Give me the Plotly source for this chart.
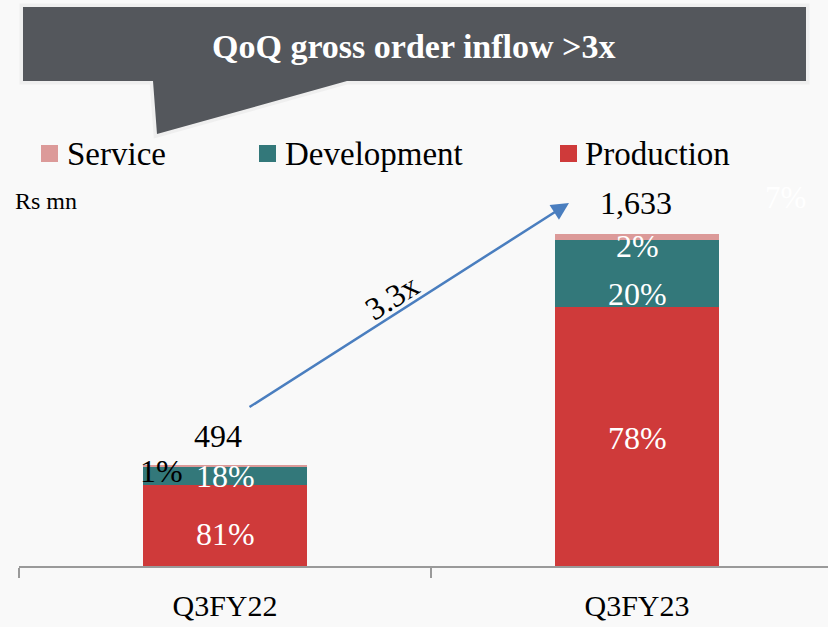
import plotly.graph_objects as go

# ---- data -------------------------------------------------------------
quarters = ["Q3FY22", "Q3FY23"]
totals = [494, 1633]                      # Rs mn
segments = ["Production", "Development", "Service"]
shares = {                                # % of the quarter's order inflow
    "Production": [81, 78],
    "Development": [18, 20],
    "Service": [1, 2],
}
colors = {"Production": "#cf3a3a", "Development": "#33787a", "Service": "#dc9a99"}
growth_label = "3.3x"
headline = "QoQ gross order inflow >3x"
unit_label = "Rs mn"

FONT = "Liberation Serif"
BG = "#f9f9f9"

# ---- layout geometry (pixels) ----------------------------------------
FIG_W, FIG_H = 828, 627
M_L, M_R, M_T, M_B = 19, 0, 180, 61
PLOT_W = FIG_W - M_L - M_R
PLOT_H = FIG_H - M_T - M_B
CAT_PX = 412                      # pixels per category slot
Y_MAX = 1897


def px_x(p):
    return (p - M_L) / PLOT_W


def px_y(p):
    return (FIG_H - M_B - p) / PLOT_H


def path_from_px(points):
    pts = [f"{px_x(x):.5f},{px_y(y):.5f}" for x, y in points]
    return "M " + " L ".join(pts) + " Z"


# absolute segment values from shares and totals
values = {s: [t * p / 100 for t, p in zip(totals, shares[s])] for s in segments}

fig = go.Figure()
for s in segments:
    fig.add_trace(go.Bar(
        x=quarters, y=values[s], name=s,
        marker=dict(color=colors[s], line=dict(width=0)),
        width=0.4, showlegend=False, hoverinfo="skip",
    ))

annotations = []

# percentage labels inside the stacks
label_shift = {  # (xshift, yshift, color) per segment and quarter
    ("Production", 0): (0, -9, "white"),
    ("Development", 0): (0, 0, "white"),
    ("Service", 0): (-64, -5, "black"),
    ("Production", 1): (0, -2, "white"),
    ("Development", 1): (0, -20, "white"),
    ("Service", 1): (0, -9, "white"),
}
for i, q in enumerate(quarters):
    base = 0.0
    for s in segments:
        v = values[s][i]
        xs, ys, col = label_shift[(s, i)]
        annotations.append(dict(
            x=q, y=base + v / 2, xref="x", yref="y",
            text=f"{shares[s][i]}%", showarrow=False,
            xanchor="center", yanchor="middle", xshift=xs, yshift=ys,
            font=dict(family=FONT, size=32, color=col),
        ))
        base += v

# totals above the bars
for i, q in enumerate(quarters):
    annotations.append(dict(
        x=q, y=totals[i], xref="x", yref="y",
        text=f"{totals[i]:,}", showarrow=False,
        xanchor="center", yanchor="middle",
        xshift=-7 if i == 0 else -1, yshift=29 if i == 0 else 31,
        font=dict(family=FONT, size=32, color="black"),
    ))

# faint share label on the right
annotations.append(dict(
    x=px_x(785), y=px_y(197.5), xref="paper", yref="paper",
    text="7%", showarrow=False, xanchor="center", yanchor="middle",
    font=dict(family=FONT, size=31, color="white"),
))

# growth arrow and its label
annotations.append(dict(
    x=px_x(569), y=px_y(203), xref="paper", yref="paper",
    ax=248 - 569, ay=408 - 203, axref="pixel", ayref="pixel",
    text="", showarrow=True, arrowhead=2, arrowsize=1.4,
    arrowwidth=2.5, arrowcolor="#4a7ebf",
))
annotations.append(dict(
    x=px_x(392), y=px_y(297), xref="paper", yref="paper",
    text=growth_label, showarrow=False, textangle=-32,
    xanchor="center", yanchor="middle",
    font=dict(family=FONT, size=32, color="black"),
))

# unit label
annotations.append(dict(
    x=px_x(13), y=px_y(201), xref="paper", yref="paper",
    text=unit_label, showarrow=False, xanchor="left", yanchor="middle",
    font=dict(family=FONT, size=24, color="black"),
))

# headline inside the callout
annotations.append(dict(
    x=px_x(413), y=px_y(46), xref="paper", yref="paper",
    text=f"<b>{headline}</b>", showarrow=False,
    xanchor="center", yanchor="middle",
    font=dict(family=FONT, size=34, color="white"),
))

shapes = []

# callout box with a pointer tail
callout = [(23, 7), (806, 7), (806, 81), (347, 81), (157, 134), (153, 81), (23, 81)]
shapes.append(dict(type="path", xref="paper", yref="paper",
                   path=path_from_px(callout), fillcolor="#efefef",
                   line=dict(color="#efefef", width=7), layer="above"))
shapes.append(dict(type="path", xref="paper", yref="paper",
                   path=path_from_px(callout), fillcolor="#54575c",
                   line=dict(width=0), layer="above"))

# legend: colour squares and names
legend_items = [("Service", 41, 67), ("Development", 259, 285), ("Production", 560, 585)]
for name, sq_x, txt_x in legend_items:
    shapes.append(dict(type="rect", xref="paper", yref="paper",
                       x0=px_x(sq_x), x1=px_x(sq_x + 17),
                       y0=px_y(162), y1=px_y(145),
                       fillcolor=colors[name], line=dict(width=0)))
    annotations.append(dict(
        x=px_x(txt_x - 2), y=px_y(153.5), xref="paper", yref="paper",
        text=name, showarrow=False, xanchor="left", yanchor="middle",
        font=dict(family=FONT, size=33, color="black"),
    ))

fig.update_layout(
    width=FIG_W, height=FIG_H,
    margin=dict(l=M_L, r=M_R, t=M_T, b=M_B, pad=0),
    barmode="stack", bargap=0,
    paper_bgcolor=BG, plot_bgcolor=BG,
    showlegend=False,
    annotations=annotations, shapes=shapes,
    xaxis=dict(
        type="category", range=[-0.5, -0.5 + PLOT_W / CAT_PX],
        showline=True, linecolor="#9a9a9a", linewidth=1.5,
        ticks="outside", tickson="boundaries", ticklen=10,
        tickcolor="#9a9a9a", tickwidth=1.5,
        showgrid=False, zeroline=False,
        tickfont=dict(family=FONT, size=30, color="black"),
        ticklabelstandoff=12,
    ),
    yaxis=dict(range=[0, Y_MAX], visible=False, showgrid=False, zeroline=False),
)

fig.write_html("out.html")
